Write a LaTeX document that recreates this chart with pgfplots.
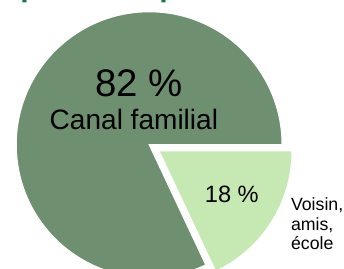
\documentclass[border=0pt]{standalone}
\usepackage{pgfplots}
\pgfplotsset{compat=1.18}
\usepackage{pgfplotstable}
\usepackage{fontspec}
\setmainfont{Liberation Sans}
\definecolor{darkslice}{RGB}{111,144,112}
\definecolor{lightslice}{RGB}{198,233,179}
\definecolor{titlegreen}{RGB}{26,122,69}
\pgfplotstableread{
label value
Canal 82
Voisin 18
}\piedata
\begin{document}
\pgfplotstablegetelem{0}{value}\of\piedata
\pgfmathsetmacro\angA{3.6*\pgfplotsretval}
\pgfmathsetmacro\angMid{(\angA+360)/2}
\begin{tikzpicture}
\begin{axis}[x=1pt,y=1pt,xmin=0,xmax=344,ymin=0,ymax=273,hide axis,clip=false,at={(0,0)},anchor=south west]
\fill[darkslice,draw=white,line width=1pt] (axis cs:146,126) -- ++(0:135pt) arc[start angle=0,end angle=\angA,radius=135pt] -- cycle;
\fill[lightslice,draw=white,line width=1pt,shift={(\angMid:12pt)}] (axis cs:146,126) -- ++(\angA:135pt) arc[start angle=\angA,end angle=360,radius=135pt] -- cycle;
\node[anchor=base,font=\fontsize{39}{45}\selectfont] at (axis cs:135.5,175) {82 \%};
\node[anchor=base,font=\fontsize{28.5}{33}\selectfont] at (axis cs:130.5,141) {Canal familial};
\node[anchor=base,font=\fontsize{24}{28}\selectfont] at (axis cs:230,67) {18 \%};
\node[anchor=base west,inner sep=0pt,font=\fontsize{18}{20}\selectfont] at (axis cs:290,59) {Voisin,};
\node[anchor=base west,inner sep=0pt,font=\fontsize{18}{20}\selectfont] at (axis cs:290,39) {amis,};
\node[anchor=base west,inner sep=0pt,font=\fontsize{18}{20}\selectfont] at (axis cs:290,19) {école};
\node[anchor=base west,inner sep=0pt,font=\bfseries\fontsize{31}{36}\selectfont,text=titlegreen] at (axis cs:-4,277) {ique de ce parcours};
\end{axis}
\pgfresetboundingbox
\path[use as bounding box] (0,0) rectangle (344pt,273pt);
\end{tikzpicture}
\end{document}
